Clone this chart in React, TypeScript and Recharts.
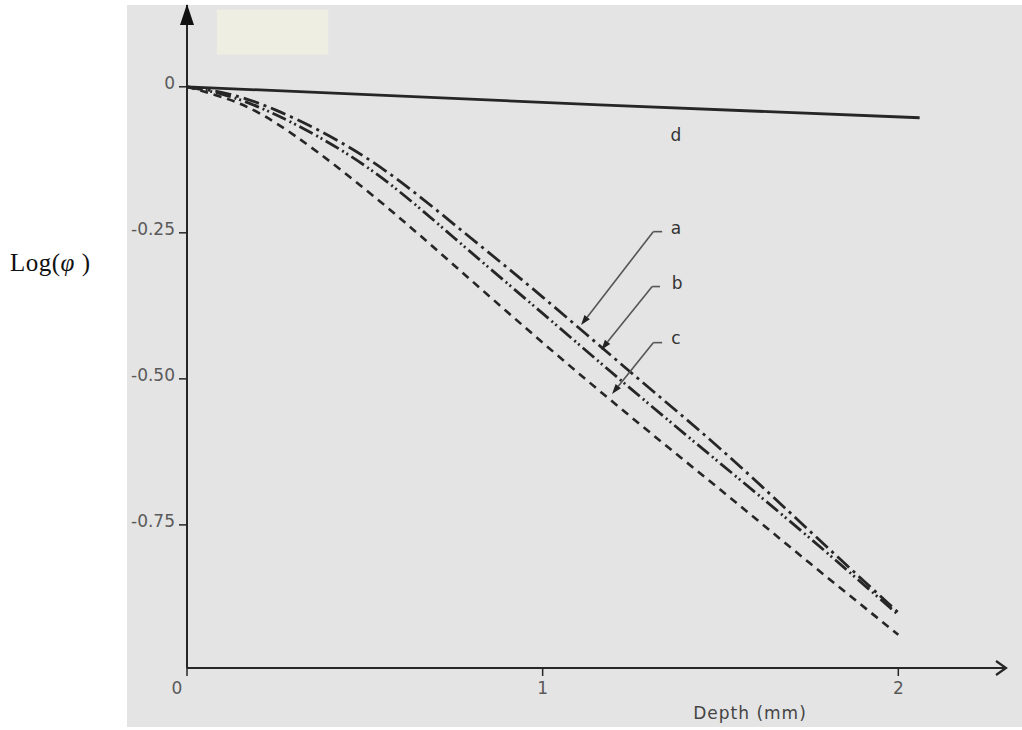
import React from "react";
import {
  LineChart,
  Line,
  XAxis,
  YAxis,
  ReferenceLine,
  ReferenceDot,
  ReferenceArea,
} from "recharts";

// depth (mm) and log(phi) for the three measured curves
const depth = [0, 0.1, 0.25, 0.5, 0.75, 1.0, 1.25, 1.5, 1.75, 2.0];
const curveA = [0, -0.01, -0.04, -0.12, -0.235, -0.36, -0.49, -0.62, -0.76, -0.9];
const curveB = [0, -0.013, -0.048, -0.135, -0.258, -0.388, -0.518, -0.645, -0.772, -0.904];
const curveC = [0, -0.018, -0.062, -0.175, -0.305, -0.438, -0.566, -0.69, -0.815, -0.938];

// reference line d
const depthD = [0, 1.16, 2.06];
const curveD = [0, -0.031, -0.053];

const xTicks = [0, 1, 2];
const yTicks = [0, -0.25, -0.5, -0.75];

const rows = depth.map((x, i) => ({ depth: x, a: curveA[i], b: curveB[i], c: curveC[i] }));
const rowsD = depthD.map((x, i) => ({ depth: x, d: curveD[i] }));

const INK = "#262626";
const GREY_TEXT = "#5a5a5a";
const SANS = "'DejaVu Sans', sans-serif";

const X_MAX = 2.3;
const Y_MIN = -0.995;
const Y_MAX = 0.14;

function ArrowLine(p: any) {
  const { x1, y1, x2, y2 } = p;
  const ang = Math.atan2(y2 - y1, x2 - x1);
  const len = 10;
  const half = 3.4;
  const bx = x2 - len * Math.cos(ang);
  const by = y2 - len * Math.sin(ang);
  const px = -Math.sin(ang) * half;
  const py = Math.cos(ang) * half;
  return (
    <g>
      <line x1={x1} y1={y1} x2={bx} y2={by} stroke="#555" strokeWidth={1.6} />
      <polygon
        points={`${x2},${y2} ${bx + px},${by + py} ${bx - px},${by - py}`}
        fill="#222"
      />
    </g>
  );
}

function UpArrow(p: any) {
  const { cx, cy } = p;
  return <polygon points={`${cx},${cy - 1} ${cx - 7},${cy + 20} ${cx + 7},${cy + 20}`} fill="#111" />;
}

function RightArrow(p: any) {
  const { cx, cy } = p;
  return (
    <polyline
      points={`${cx - 9},${cy - 7} ${cx + 1},${cy} ${cx - 9},${cy + 7}`}
      fill="none"
      stroke={INK}
      strokeWidth={2.2}
    />
  );
}

function curveLabel(text: string) {
  return (p: any) => (
    <text
      x={p.cx}
      y={p.cy}
      textAnchor="middle"
      dominantBaseline="central"
      fontFamily={SANS}
      fontSize={17}
      fill="#333"
    >
      {text}
    </text>
  );
}

function XTick(p: any) {
  const v = p.payload.value;
  return (
    <text
      x={p.x + (v === 0 ? -10 : 0)}
      y={p.y}
      dy="0.85em"
      textAnchor="middle"
      fontFamily={SANS}
      fontSize={17}
      fill={GREY_TEXT}
    >
      {v}
    </text>
  );
}

function YTick(p: any) {
  const v = p.payload.value;
  return (
    <text
      x={p.x}
      y={p.y - 4}
      textAnchor="end"
      dominantBaseline="central"
      fontFamily={SANS}
      fontSize={17}
      fill={GREY_TEXT}
    >
      {v === 0 ? "0" : v.toFixed(2)}
    </text>
  );
}

export default function App() {
  return (
    <div style={{ position: "absolute", left: 0, top: 0, width: 1022, height: 730, background: "#fff" }}>
      <div
        style={{
          position: "absolute",
          left: 127,
          top: 5,
          width: 895,
          height: 722,
          background: "#e4e4e4",
        }}
      />
      <div style={{ position: "absolute", left: 0, top: 0 }}>
        <LineChart
          width={1022}
          height={730}
          data={rows}
          margin={{ top: 5, right: 17, left: 127, bottom: 0 }}
        >
          <ReferenceArea
            x1={0.084}
            x2={0.397}
            y1={0.055}
            y2={0.132}
            fill="#efeee3"
            fillOpacity={1}
            stroke="none"
            ifOverflow="visible"
          />
          <XAxis
            dataKey="depth"
            type="number"
            domain={[0, X_MAX]}
            ticks={xTicks}
            height={62}
            axisLine={{ stroke: INK, strokeWidth: 2 }}
            tickLine={{ stroke: INK, strokeWidth: 1.5 }}
            tickSize={8}
            tickMargin={4}
            tick={<XTick />}
            label={{
              content: (p: any) => (
                <text
                  x={p.viewBox.x + p.viewBox.width / 2 + 154}
                  y={p.viewBox.y + 51}
                  textAnchor="middle"
                  fontFamily={SANS}
                  fontSize={17}
                  letterSpacing={1}
                  fill="#444"
                >
                  Depth (mm)
                </text>
              ),
            }}
          />
          <YAxis
            type="number"
            domain={[Y_MIN, Y_MAX]}
            ticks={yTicks}
            width={60}
            allowDataOverflow
            axisLine={{ stroke: INK, strokeWidth: 2 }}
            tickLine={{ stroke: INK, strokeWidth: 1.5 }}
            tickSize={8}
            tickMargin={4}
            tick={<YTick />}
            label={{
              content: (p: any) => (
                <text
                  x={p.viewBox.x - 117}
                  y={p.viewBox.y + 266}
                  fontFamily="'Liberation Serif', serif"
                  fontSize={25}
                  letterSpacing={0.5}
                  fill="#111"
                >
                  Log(<tspan fontStyle="italic">φ</tspan> )
                </text>
              ),
            }}
          />

          <Line
            data={rowsD}
            dataKey="d"
            type="linear"
            stroke={INK}
            strokeWidth={2.8}
            dot={false}
            isAnimationActive={false}
          />
          <Line
            dataKey="a"
            type="natural"
            stroke={INK}
            strokeWidth={2.8}
            strokeDasharray="16 5 3 5"
            dot={false}
            isAnimationActive={false}
          />
          <Line
            dataKey="b"
            type="natural"
            stroke={INK}
            strokeWidth={2.8}
            strokeDasharray="15 4 2 3 2 4"
            dot={false}
            isAnimationActive={false}
          />
          <Line
            dataKey="c"
            type="natural"
            stroke={INK}
            strokeWidth={2.6}
            strokeDasharray="8 6"
            dot={false}
            isAnimationActive={false}
          />

          {/* axis arrowheads */}
          <ReferenceDot x={0} y={Y_MAX} ifOverflow="visible" shape={<UpArrow />} />
          <ReferenceDot x={X_MAX} y={Y_MIN} ifOverflow="visible" shape={<RightArrow />} />

          {/* curve labels with leaders */}
          <ReferenceLine segment={[{ x: 1.311, y: -0.248 }, { x: 1.336, y: -0.248 }]} stroke="#555" strokeWidth={1.6} />
          <ReferenceLine segment={[{ x: 1.311, y: -0.248 }, { x: 1.108, y: -0.408 }]} shape={ArrowLine} />
          <ReferenceLine segment={[{ x: 1.308, y: -0.342 }, { x: 1.33, y: -0.342 }]} stroke="#555" strokeWidth={1.6} />
          <ReferenceLine segment={[{ x: 1.308, y: -0.342 }, { x: 1.165, y: -0.45 }]} shape={ArrowLine} />
          <ReferenceLine segment={[{ x: 1.311, y: -0.438 }, { x: 1.336, y: -0.438 }]} stroke="#555" strokeWidth={1.6} />
          <ReferenceLine segment={[{ x: 1.311, y: -0.438 }, { x: 1.195, y: -0.526 }]} shape={ArrowLine} />

          <ReferenceDot x={1.375} y={-0.241} shape={curveLabel("a")} />
          <ReferenceDot x={1.378} y={-0.336} shape={curveLabel("b")} />
          <ReferenceDot x={1.375} y={-0.43} shape={curveLabel("c")} />
          <ReferenceDot x={1.375} y={-0.082} shape={curveLabel("d")} />
        </LineChart>
      </div>
    </div>
  );
}
